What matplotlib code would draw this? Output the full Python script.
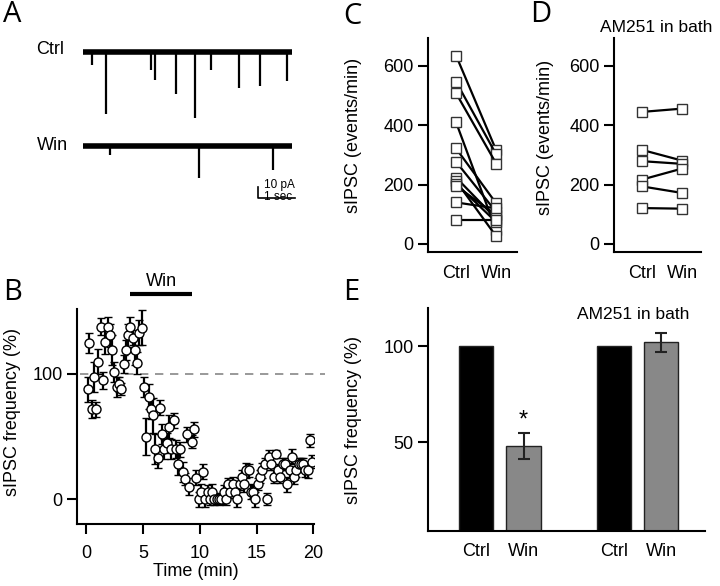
import numpy as np
import matplotlib
matplotlib.use('Agg')
import matplotlib.pyplot as plt

plt.rcParams['font.family'] = ['Liberation Sans', 'DejaVu Sans']
plt.rcParams['font.size'] = 12

# ---- data ----
# A: example traces, event times (s) and amplitudes (pA)
ctrl_ev_t = [0.24, 0.62, 1.84, 1.95, 2.51, 3.03, 3.46, 4.22, 4.78, 5.51]
ctrl_ev_amp = [-12, -56, -16, -25, -38, -60, -16, -33, -31, -26]
win_ev_t = [0.73, 3.14, 5.14]
win_ev_amp = [-8, -29, -22]
trace_len = 5.65
win_offset = -85.5

# B: time course (min) / sIPSC frequency (%)
b_time = [0.15, 0.3, 0.5, 0.7, 0.9, 1.1, 1.3, 1.5, 1.7, 1.9, 2.1, 2.3, 2.5, 2.7, 2.9,
          3.1, 3.3, 3.5, 3.7, 3.9, 4.1, 4.3, 4.5, 4.7, 4.9, 5.1, 5.3, 5.5, 5.7, 5.9,
          6.1, 6.3, 6.5, 6.7, 6.9, 7.1, 7.3, 7.5, 7.7, 7.9, 8.1, 8.3, 8.5, 8.7, 8.9,
          9.1, 9.3, 9.5, 9.7, 9.9, 10.1, 10.3, 10.5, 10.7, 10.9, 11.1, 11.3, 11.5, 11.7, 11.9,
          12.1, 12.3, 12.5, 12.7, 12.9, 13.1, 13.3, 13.5, 13.7, 13.9, 14.1, 14.3, 14.5, 14.7, 14.9,
          15.1, 15.3, 15.5, 15.7, 15.9, 16.1, 16.3, 16.5, 16.7, 16.9, 17.1, 17.3, 17.5, 17.7, 17.9,
          18.1, 18.3, 18.5, 18.7, 18.9, 19.1, 19.3, 19.5, 19.7, 19.9]
b_freq = [88, 125, 72, 98, 72, 110, 138, 95, 126, 138, 131, 119, 102, 90, 92,
          88, 108, 119, 131, 138, 129, 119, 109, 133, 137, 90, 50, 82, 72, 67,
          40, 33, 73, 52, 40, 45, 58, 40, 63, 40, 28, 40, 22, 16, 52,
          10, 46, 56, 17, 0, 6, 22, 0, 6, 0, 6, 0, 0, 0, 0,
          6, 0, 12, 6, 12, 6, 0, 12, 18, 12, 23, 23, 6, 6, 0,
          12, 18, 23, 28, 0, 34, 28, 18, 36, 23, 18, 28, 28, 12, 23,
          34, 18, 23, 28, 28, 28, 23, 23, 47, 30]
b_err = [10, 8, 7, 12, 6, 10, 7, 7, 10, 8, 9, 12, 8, 8, 6,
         5, 7, 8, 9, 8, 6, 12, 9, 10, 14, 8, 15, 10, 8, 14,
         12, 8, 6, 8, 8, 8, 9, 8, 6, 7, 9, 6, 8, 5, 6,
         7, 5, 6, 6, 6, 6, 6, 6, 5, 5, 6, 5, 4, 5, 4,
         5, 5, 5, 5, 6, 5, 6, 5, 5, 6, 6, 5, 6, 5, 6,
         5, 5, 6, 5, 5, 5, 5, 5, 3, 5, 5, 5, 5, 6, 6,
         6, 6, 5, 5, 5, 5, 5, 6, 5, 5]
win_start, win_end = 3.9, 9.3

# C / D: paired cells (events/min)
c_ctrl = [635, 547, 508, 410, 322, 277, 224, 212, 203, 196, 140, 80]
c_win = [316, 302, 271, 46, 137, 108, 85, 26, 74, 98, 120, 80]
d_ctrl = [445, 317, 279, 217, 194, 121]
d_win = [456, 281, 270, 254, 172, 119]
pair_labels = ['Ctrl', 'Win']

# E: summary bars (%)
e_labels = ['Ctrl', 'Win', 'Ctrl', 'Win']
e_pos = [0, 1, 2.9, 3.9]
e_vals = [100, 48, 100, 102]
e_err = [0, 6.7, 0, 5.2]
e_colors = ['black', '#888888', 'black', '#888888']

W, H = 720, 586
fig = plt.figure(figsize=(W / 100, H / 100), dpi=100)


def px_axes(l, t, r, b):
    # pixel box -> figure fraction axes
    return fig.add_axes([l / W, 1 - b / H, (r - l) / W, (b - t) / H])


def style(ax):
    for s in ['top', 'right']:
        ax.spines[s].set_visible(False)
    ax.spines['left'].set_linewidth(1.5)
    ax.spines['bottom'].set_linewidth(1.5)
    ax.tick_params(direction='out', width=1.5, length=7, labelsize=13)


# ---------------- A ----------------
axA = px_axes(80, 30, 300, 210)
axA.axis('off')
axA.set_xlim(-0.08, 5.86)
axA.set_ylim(-143.6, 20)
axA.plot([0, trace_len], [0, 0], color='black', lw=4, solid_capstyle='butt')
axA.vlines(ctrl_ev_t, 0, ctrl_ev_amp, color='black', lw=1.6)
axA.plot([0, trace_len], [win_offset, win_offset], color='black', lw=4, solid_capstyle='butt')
axA.vlines(win_ev_t, win_offset, np.array(win_ev_amp) + win_offset, color='black', lw=1.6)
# scale bar
axA.plot([4.73, 4.73, 5.73], [-122.7, -132.7, -132.7], color='black', lw=1.2)
axA.text(4.88, -121, '10 pA', fontsize=8.5, va='center')
axA.text(4.88, -131.5, '1 sec', fontsize=8.5, va='center')
fig.text(36 / W, 1 - 50 / H, 'Ctrl', fontsize=13, va='center')
fig.text(37 / W, 1 - 145 / H, 'Win', fontsize=13, va='center')

# ---------------- B ----------------
axB = px_axes(77, 309, 314, 524)
style(axB)
axB.set_xlim(-0.79, 20.05)
axB.set_ylim(-20, 152)
axB.errorbar(b_time, b_freq, yerr=b_err, fmt='o', color='black', mfc='white', mec='black',
             ms=6.5, mew=1, elinewidth=1.6, capsize=3, capthick=1.6, zorder=3)
axB.plot([-0.5, 21], [100, 100], ls=(0, (5, 4)), color='#888888', lw=1.2, clip_on=False, zorder=1)
axB.plot([win_start, win_end], [164, 164], color='black', lw=3, clip_on=False, solid_capstyle='butt')
axB.text((win_start + win_end) / 2, 167, 'Win', ha='center', va='bottom', fontsize=13)
axB.set_xticks([0, 5, 10, 15, 20])
axB.set_yticks([0, 100])
axB.tick_params(axis='x', pad=8)
axB.set_xlabel('Time (min)', fontsize=13, labelpad=1)
fig.text(13 / W, 1 - 412 / H, 'sIPSC frequency (%)', rotation=90, fontsize=13, ha='center', va='center')


# ---------------- C and D ----------------
def pairs(ax, ctrl, win):
    for a, b in zip(ctrl, win):
        ax.plot([0, 1], [a, b], color='black', lw=1.6, marker='s', ms=6.5, mfc='white',
                mec='#333333', mew=1, zorder=3)
    style(ax)
    ax.set_ylim(-27, 694)
    ax.set_yticks([0, 200, 400, 600])
    ax.set_xticks([0, 1])
    ax.set_xticklabels(pair_labels)
    ax.tick_params(axis='x', length=0, pad=9)


axC = px_axes(428, 38, 517, 252)
pairs(axC, c_ctrl, c_win)
axC.set_xlim(-0.7, 1.52)
fig.text(353 / W, 1 - 135 / H, 'sIPSC (events/min)', rotation=90, fontsize=13, ha='center', va='center')

axD = px_axes(614, 38, 701, 252)
pairs(axD, d_ctrl, d_win)
axD.set_xlim(-0.7, 1.475)
fig.text(545 / W, 1 - 137 / H, 'sIPSC (events/min)', rotation=90, fontsize=13, ha='center', va='center')
fig.text(656 / W, 1 - 27 / H, 'AM251 in bath', fontsize=12.5, ha='center', va='center')

# ---------------- E ----------------
axE = px_axes(428, 308, 705, 531)
style(axE)
axE.bar(e_pos, e_vals, width=0.72, color=e_colors, edgecolor='#222222', lw=1)
axE.errorbar(e_pos[1], e_vals[1], yerr=e_err[1], fmt='none', ecolor='#222222', elinewidth=1.5, capsize=4, capthick=1.5)
axE.errorbar(e_pos[3], e_vals[3], yerr=e_err[3], fmt='none', ecolor='#222222', elinewidth=1.5, capsize=4, capthick=1.5)
axE.set_xlim(-1.01, 4.82)
axE.set_ylim(3.6, 120)
axE.set_yticks([50, 100])
axE.set_xticks(e_pos)
axE.set_xticklabels(e_labels)
axE.tick_params(axis='x', length=0, pad=9)
axE.text(e_pos[1], 61.5, '*', ha='center', va='center', fontsize=17)
axE.text(3.3, 116.7, 'AM251 in bath', ha='center', va='center', fontsize=12.5)
fig.text(353 / W, 1 - 420 / H, 'sIPSC frequency (%)', rotation=90, fontsize=13, ha='center', va='center')

# panel letters
for lab, x, y in [('A', 3, 15), ('B', 3, 293), ('C', 343, 17), ('D', 530, 15), ('E', 343, 293)]:
    fig.text(x / W, 1 - y / H, lab, fontsize=21, va='center', ha='left', family=['Open Sans', 'DejaVu Sans'])

fig.savefig('out.png', dpi=100)
